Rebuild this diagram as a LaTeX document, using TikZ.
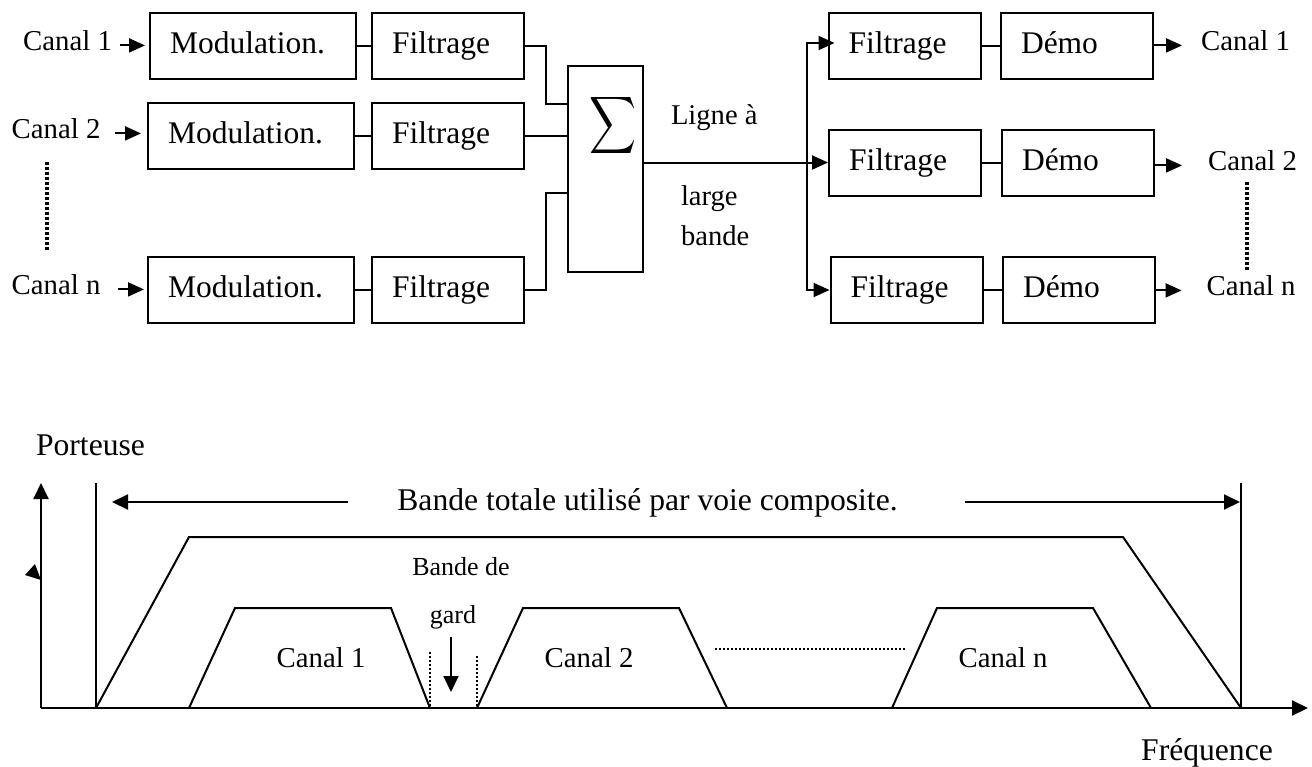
\documentclass[tikz,border=0pt]{standalone}
\usepackage{fontspec}
\setmainfont{Liberation Serif}
\usetikzlibrary{arrows.meta,calc}
\begin{document}
\begin{tikzpicture}[x=0.5pt,y=-0.5pt,line width=1pt,
  blk/.style={draw,font=\fontsize{15.75}{18}\selectfont,align=left,inner xsep=10pt,
              text height=11pt,text depth=3.5pt,minimum height=33pt},
  modbox/.style={blk,text width=83pt},
  filbox/.style={blk,text width=56pt},
  lab/.style={font=\fontsize{14.4}{16}\selectfont},
  linelab/.style={font=\fontsize{14.3}{16}\selectfont,anchor=base west,inner sep=0pt},
  big/.style={font=\fontsize{15.8}{18}\selectfont},
  small/.style={font=\fontsize{13}{15}\selectfont},
  arr/.style={-{Triangle[length=8pt,width=7pt]}},
  barr/.style={-{Triangle[length=8pt,width=7.5pt]}},
  dots/.style={line width=1.6pt,dash pattern=on 1.3pt off 1.2pt},
  fdots/.style={line width=1.3pt,dash pattern=on 1pt off 1pt}]

\useasboundingbox (0,0) rectangle (1312,766);

% ---------- emitter side ----------
\node[modbox] (m1) at (253,46)    {Modulation.};
\node[filbox] (f1) at (448,46)    {Filtrage};
\node[modbox] (m2) at (251,136)   {Modulation.};
\node[filbox] (f2) at (448,136)   {Filtrage};
\node[modbox] (mn) at (251,289.5) {Modulation.};
\node[filbox] (fn) at (448,289.5) {Filtrage};

\node[lab,anchor=base] (c1) at (67.5,50) {Canal 1};
\node[lab,anchor=base] (c2) at (56,138)  {Canal 2};
\node[lab,anchor=base] (cn) at (56,294)  {Canal n};

\draw[arr,shorten >=2pt] (c1.mid east) -- (c1.mid east -| m1.west);
\draw[arr,shorten <=3.7pt,shorten >=3pt] (c2.mid east) -- (c2.mid east -| m2.west);
\draw[arr,shorten <=5.2pt,shorten >=1.5pt] (cn.mid east) -- (cn.mid east -| mn.west);
\draw[dots] (47,162) -- (47,251);

\draw (m1) -- (f1);
\draw (m2) -- (f2);
\draw (mn) -- (fn);

% ---------- summing block ----------
\node[draw,minimum width=37.5pt,minimum height=103pt,inner sep=0pt] (sum) at (605.5,169) {};
\node[inner sep=0pt] (sig) at (613,125) {\resizebox*{23.5pt}{32pt}{$\displaystyle\sum$}};

\draw (f1.east) -- ++(21,0) |- ([yshift=32.5pt]sum.west);
\draw (f2.east) -- (f2.east -| sum.west);
\draw (fn.east) -- ++(21,0) |- ([yshift=-12pt]sum.west);

\node[linelab] (l1) at (670,124) {Ligne à};
\node[linelab] (l2) at (680,205) {large};
\node[linelab] (l3) at (680,245) {bande};

% ---------- receiver side ----------
\node[filbox] (r1) at (904.5,46)  {Filtrage};
\node[filbox] (d1) at (1077,46)   {Démo};
\node[filbox] (r2) at (905,162.5) {Filtrage};
\node[filbox] (d2) at (1078,162.5){Démo};
\node[filbox] (rn) at (906.5,290) {Filtrage};
\node[filbox] (dn) at (1079,290)  {Démo};

\coordinate (bus) at (807,162.5);
\draw[arr] (sum.east |- r2.west) -- (r2.west);
\draw[arr,shorten >=-3.5pt] (bus) |- ([yshift=1.5pt]r1.west);
\draw[arr] (bus) |- (rn.west);

\draw (r1) -- (d1);
\draw (r2) -- (d2);
\draw (rn) -- (dn);

\node[lab,anchor=base] (o1) at (1245.5,50) {Canal 1};
\node[lab,anchor=base] (o2) at (1252.5,170) {Canal 2};
\node[lab,anchor=base] (on) at (1251,295) {Canal n};

\draw[arr,shorten >=5.7pt] (d1.east |- o1.mid west) -- (o1.mid west);
\draw[arr,shorten >=9.2pt] (d2.east |- o2.mid west) -- (o2.mid west);
\draw[arr,shorten >=8.7pt] (dn.east |- on.mid west) -- (on.mid west);
\draw[dots] (1247,182) -- (1247,270);

% ---------- spectrum ----------
\node[big,anchor=base] (port) at (90.5,455) {Porteuse};
\node[big,anchor=base] (freq) at (1207,760) {Fréquence};

\coordinate (orig) at (41,708);
\coordinate (ytop) at (41,483);
\coordinate (xend) at (1308,708);
\coordinate (fL) at (96,708);
\coordinate (fR) at (1241,708);
\coordinate (fLt) at (96,483);
\coordinate (fRt) at (1241,483);

\draw[barr] (orig) -- (ytop);
\fill (25,575) -- (35,564) -- (41,580) -- cycle;
\draw[barr] (orig) -- (xend);
\draw (fL) -- (fLt);
\draw (fR) -- (fRt);

\node[big,anchor=base] (tot) at (647.5,510) {Bande totale utilisé par voie composite.};
\coordinate (tl) at (348,502);
\coordinate (tlend) at (112,502);
\coordinate (tr) at (965,502);
\coordinate (trend) at (1240,502);
\draw[barr] (tl) -- (tlend);
\draw[barr] (tr) -- (trend);

% composite band
\draw (fL) -- (189,537) -- (1123,537) -- (fR);
% individual channels
\draw (189,708) -- (235,608) -- (391,608) -- (430,708);
\draw (477,708) -- (523,608) -- (679,608) -- (727,708);
\draw (892,708) -- (937,608) -- (1093,608) -- (1151,708);

\node[lab,anchor=base] (k1) at (321,667)  {Canal 1};
\node[lab,anchor=base] (k2) at (589,667)  {Canal 2};
\node[lab,anchor=base] (kn) at (1003,667) {Canal n};

% guard band
\draw[fdots] (430,652) -- (430,708);
\draw[fdots] (477,656) -- (477,708);
\draw[fdots] (715,649) -- (905,649);
\node[small,anchor=base] (bg1) at (461,575) {Bande de};
\node[small,anchor=base] (bg2) at (453,623) {gard};
\coordinate (ga) at (451,637);
\coordinate (gb) at (451,692);
\draw[barr] (ga) -- (gb);
\end{tikzpicture}
\end{document}
